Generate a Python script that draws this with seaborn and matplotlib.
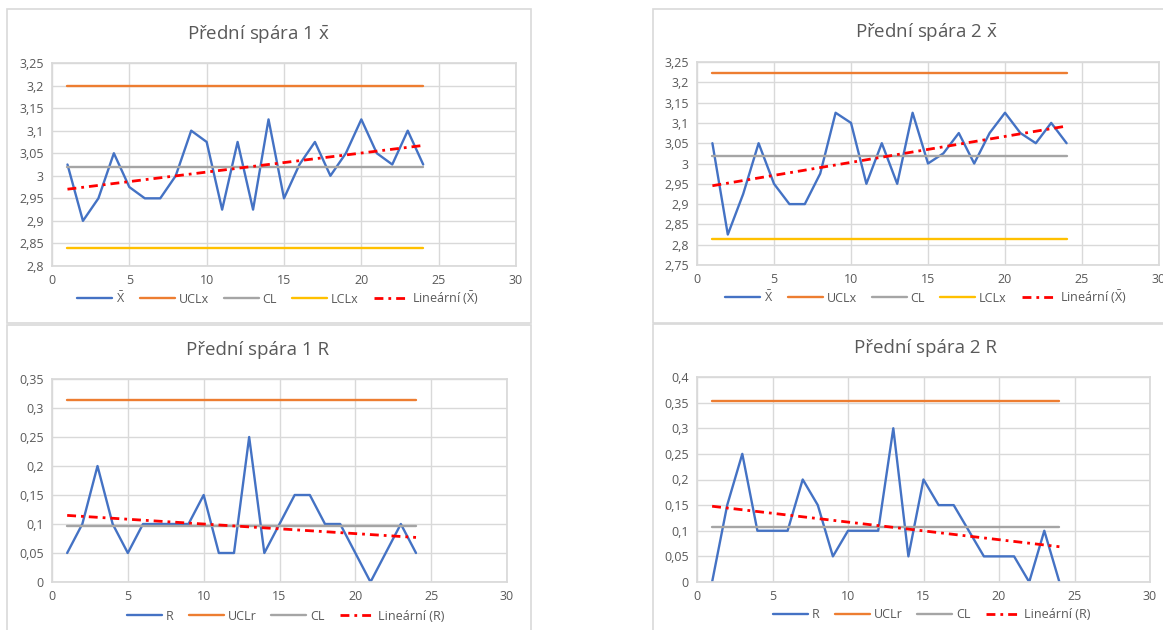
import matplotlib
matplotlib.use("Agg")
import matplotlib.pyplot as plt
from matplotlib.patches import Rectangle
from matplotlib.ticker import FuncFormatter, MultipleLocator
import numpy as np
import seaborn as sns

# sample numbers 1..24
samples = list(range(1, 25))

# Přední spára 1
xbar_1 = [3.025, 2.90, 2.95, 3.05, 2.975, 2.95, 2.95, 3.00, 3.10, 3.075, 2.925, 3.075,
          2.925, 3.125, 2.95, 3.025, 3.075, 3.00, 3.05, 3.125, 3.05, 3.025, 3.10, 3.025]
r_1 = [0.05, 0.10, 0.20, 0.10, 0.05, 0.10, 0.10, 0.10, 0.10, 0.15, 0.05, 0.05,
       0.25, 0.05, 0.10, 0.15, 0.15, 0.10, 0.10, 0.05, 0.00, 0.05, 0.10, 0.05]
ucl_x1, cl_x1, lcl_x1 = 3.199, 3.019, 2.839
ucl_r1, cl_r1 = 0.313, 0.096

# Přední spára 2
xbar_2 = [3.05, 2.825, 2.925, 3.05, 2.95, 2.90, 2.90, 2.975, 3.125, 3.10, 2.95, 3.05,
          2.95, 3.125, 3.00, 3.025, 3.075, 3.00, 3.075, 3.125, 3.075, 3.05, 3.10, 3.05]
r_2 = [0.00, 0.15, 0.25, 0.10, 0.10, 0.10, 0.20, 0.15, 0.05, 0.10, 0.10, 0.10,
       0.30, 0.05, 0.20, 0.15, 0.15, 0.10, 0.05, 0.05, 0.05, 0.00, 0.10, 0.00]
ucl_x2, cl_x2, lcl_x2 = 3.222, 3.019, 2.815
ucl_r2, cl_r2 = 0.354, 0.108

XBAR_SMALL = r"$\bar{\mathrm{x}}$"
XBAR_BIG = r"$\bar{\mathrm{X}}$"
titles = ["Přední spára 1 " + XBAR_SMALL, "Přední spára 2 " + XBAR_SMALL,
          "Přední spára 1 R", "Přední spára 2 R"]

BLUE, ORANGE, GRAY, YELLOW, RED = "#4472C4", "#ED7D31", "#A5A5A5", "#FFC000", "#FF0000"
GRID = "#D9D9D9"
TXT = "#595959"

sns.set_theme(style="white")
plt.rcParams["font.family"] = ["Open Sans", "DejaVu Sans"]
plt.rcParams["mathtext.fontset"] = "custom"
plt.rcParams["mathtext.rm"] = "Open Sans"
plt.rcParams["mathtext.it"] = "Open Sans:italic"

W, H = 1163, 630
fig = plt.figure(figsize=(W / 100, H / 100), dpi=100)
fig.patch.set_facecolor("white")


def px(l, t, r, b):
    return [l / W, 1 - b / H, (r - l) / W, (b - t) / H]


# chart frames
for l, t, r, b in [(7, 9, 531, 323), (653, 9, 1170, 323), (7, 325, 531, 640), (653, 324, 1170, 640)]:
    fig.patches.append(Rectangle((l / W, 1 - b / H), (r - l) / W, (b - t) / H,
                                 transform=fig.transFigure, fill=False,
                                 edgecolor=GRID, linewidth=1.2))

comma = FuncFormatter(lambda v, p: f"{v:.2f}".rstrip("0").rstrip(".").replace(".", ","))
trend_kws = dict(color=RED, linewidth=2.0, linestyle=(0, (3.2, 1.8, 1, 1.8)))


def style_axes(ax, ylo, yhi, ystep):
    ax.set_xlim(0, 30)
    ax.set_ylim(ylo, yhi)
    ax.xaxis.set_major_locator(MultipleLocator(5))
    ax.yaxis.set_major_locator(MultipleLocator(ystep))
    ax.yaxis.set_major_formatter(comma)
    ax.grid(True, color=GRID, linewidth=1)
    for s in ax.spines.values():
        s.set_color(GRID)
    ax.tick_params(length=0, labelsize=9, labelcolor=TXT, pad=6)
    ax.set_xlabel("")
    ax.set_ylabel("")


def xbar_chart(box, title_xy, leg_xy, xbar, ucl, cl, lcl, ylo, title):
    ax = fig.add_axes(px(*box))
    sns.lineplot(x=samples, y=xbar, color=BLUE, linewidth=1.7, label=XBAR_BIG, ax=ax)
    sns.lineplot(x=samples, y=[ucl] * len(samples), color=ORANGE, linewidth=1.7, label="UCLx", ax=ax)
    sns.lineplot(x=samples, y=[cl] * len(samples), color=GRAY, linewidth=1.7, label="CL", ax=ax)
    sns.lineplot(x=samples, y=[lcl] * len(samples), color=YELLOW, linewidth=1.7, label="LCLx", ax=ax)
    sns.regplot(x=np.array(samples), y=np.array(xbar), scatter=False, ci=None, ax=ax,
                label="Lineární (" + XBAR_BIG + ")", line_kws=trend_kws)
    style_axes(ax, ylo, 3.25, 0.05)
    finish(ax, title_xy, leg_xy, title)


def r_chart(box, title_xy, leg_xy, r, ucl, cl, yhi, title):
    ax = fig.add_axes(px(*box))
    sns.lineplot(x=samples, y=r, color=BLUE, linewidth=1.7, label="R", ax=ax)
    sns.lineplot(x=samples, y=[ucl] * len(samples), color=ORANGE, linewidth=1.7, label="UCLr", ax=ax)
    sns.lineplot(x=samples, y=[cl] * len(samples), color=GRAY, linewidth=1.7, label="CL", ax=ax)
    sns.regplot(x=np.array(samples), y=np.array(r), scatter=False, ci=None, ax=ax,
                label="Lineární (R)", line_kws=trend_kws)
    style_axes(ax, 0, yhi, 0.05)
    finish(ax, title_xy, leg_xy, title)


def finish(ax, title_xy, leg_xy, title):
    fig.text(title_xy[0] / W, 1 - title_xy[1] / H, title, ha="center", va="center",
             fontsize=13.5, color=TXT)
    handles, labels = ax.get_legend_handles_labels()
    ax.legend(handles, labels, loc="center", ncol=len(labels), frameon=False,
              bbox_to_anchor=(leg_xy[0] / W, 1 - leg_xy[1] / H), bbox_transform=fig.transFigure,
              fontsize=9, labelcolor=TXT, handlelength=2.8, handletextpad=0.3,
              columnspacing=1.2, borderpad=0)


xbar_chart((52, 63, 516, 266), (258, 34), (278, 298), xbar_1, ucl_x1, cl_x1, lcl_x1, 2.8, titles[0])
xbar_chart((697, 62, 1159, 265), (926, 32), (926, 297), xbar_2, ucl_x2, cl_x2, lcl_x2, 2.75, titles[1])
r_chart((52, 379, 507, 582), (258, 350), (286, 616), r_1, ucl_r1, cl_r1, 0.35, titles[2])
r_chart((697, 377, 1150, 582), (925, 348), (932, 615), r_2, ucl_r2, cl_r2, 0.4, titles[3])

fig.savefig("out.png", dpi=100, facecolor="white")
